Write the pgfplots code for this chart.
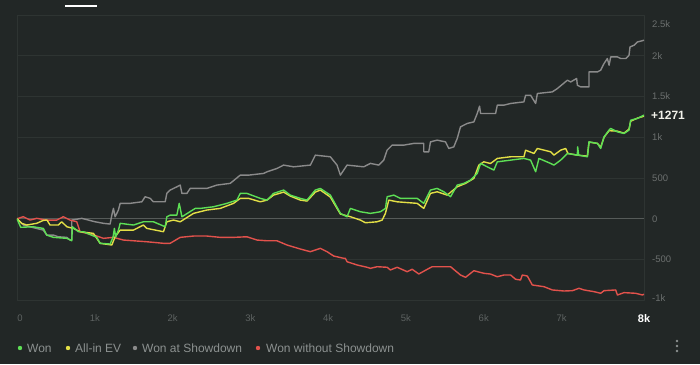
\documentclass[border=0pt]{standalone}
\usepackage{pgfplots}
\pgfplotsset{compat=1.18}
\usepackage{fontspec}
\setmainfont{Liberation Sans}
\definecolor{bg}{HTML}{222726}
\definecolor{gridc}{HTML}{2E3432}
\definecolor{zeroc}{HTML}{565B59}
\definecolor{wongreen}{HTML}{5DDF55}
\definecolor{evyellow}{HTML}{E3DF46}
\definecolor{sdgray}{HTML}{8A8A8A}
\definecolor{nsdred}{HTML}{E2524C}
\definecolor{ylab}{HTML}{6B6F6E}
\definecolor{xlab}{HTML}{5D6261}
\definecolor{legtext}{HTML}{8C9190}
\definecolor{endlab}{HTML}{F2F2EA}
\begin{document}
\begin{tikzpicture}[x=1pt,y=1pt]
\fill[bg] (0,0) rectangle (700,364);
\begin{axis}[
  at={(17pt,63.7pt)}, anchor=south west,
  scale only axis, width=627pt, height=285.4pt,
  xmin=0, xmax=8060, ymin=-1000, ymax=2500,
  axis line style={draw=gridc, line width=0.8pt},
  xtick={0,1000,2000,3000,4000,5000,6000,7000,8060},
  xticklabels={{\hspace*{6pt}0},1k,2k,3k,4k,5k,6k,7k,{\fontsize{11}{13}\selectfont\bfseries\textcolor{white}{8k}}},
  ytick={-1000,-500,0,500,1000,1500,2000,2500},
  yticklabels={{},-500,0,500,1k,1.5k,2k,{}},
  ymajorgrids, grid style={draw=gridc, line width=0.8pt},
  major tick length=0pt,
  yticklabel pos=right,
  tick label style={font=\fontsize{9.5}{11}\selectfont},
  xticklabel style={anchor=center, yshift=-18pt, text=xlab},
  yticklabel style={anchor=west, xshift=8pt, text=ylab, inner sep=0pt},
  /pgf/number format/assume math mode=true,
  clip mode=individual,
  line join=round,
]
\draw[zeroc, line width=1.3pt] (axis cs:0,0) -- (axis cs:8060,0);
\node[anchor=west, xshift=8pt, yshift=-9.4pt, text=ylab, inner sep=0pt, font=\fontsize{9.5}{11}\selectfont] at (axis cs:8060,2500) {2.5k};
\node[anchor=west, xshift=8pt, yshift=2pt, text=ylab, inner sep=0pt, font=\fontsize{9.5}{11}\selectfont] at (axis cs:8060,-1000) {-1k};

% Won at Showdown
\addplot[sdgray, line width=1.4pt] coordinates {
(0,0) (81,-77) (232,-114) (338,-139) (382,-200) (467,-200) (531,-221) (640,-228)
(682,-261) (704,-261) (704,-16) (833,5) (918,-16) (1004,-37) (1111,-56) (1197,-65)
(1219,45) (1240,127) (1261,24) (1304,107) (1326,189) (1454,189) (1605,208) (1647,270)
(1712,250) (1754,208) (1905,208) (1926,311) (1969,352) (2055,392) (2098,413) (2120,311)
(2184,311) (2226,372) (2441,372) (2570,413) (2741,434) (2870,535) (2977,535) (3170,556)
(3214,576) (3342,617) (3427,658) (3556,637) (3771,658) (3835,780) (4028,760) (4114,658)
(4157,535) (4243,658) (4457,637) (4543,679) (4650,658) (4714,719) (4758,842) (4822,903)
(4972,903) (5100,924) (5229,924) (5229,821) (5293,821) (5315,943) (5401,964) (5508,943)
(5551,862) (5615,882) (5659,985) (5701,1127) (5787,1169) (5873,1188) (5916,1291) (5946,1381)
(5959,1291) (6152,1291) (6174,1393) (6259,1393) (6345,1414) (6516,1433) (6538,1515) (6602,1515)
(6667,1414) (6689,1536) (6881,1556) (6946,1597) (7075,1699) (7117,1678) (7194,1720) (7203,1638)
(7246,1617) (7353,1617) (7353,1801) (7461,1801) (7503,1822) (7546,1904) (7589,1965) (7611,1883)
(7632,1985) (7718,1985) (7761,1965) (7825,1965) (7867,2005) (7880,2107) (7932,2128) (7975,2168)
(8060,2189)
};

% Won without Showdown
\addplot[nsdred, line width=1.4pt] coordinates {
(0,0) (81,25) (167,-16) (253,5) (382,-16) (511,-16) (596,25) (682,-16) (768,-37)
(811,-159) (897,-179) (1026,-212) (1111,-240) (1240,-228) (1368,-261) (1497,-270) (1669,-282)
(1883,-301) (1969,-301) (2098,-228) (2269,-212) (2441,-212) (2612,-228) (2784,-228) (2956,-221)
(3085,-261) (3214,-270) (3342,-270) (3471,-322) (3642,-371) (3771,-404) (3899,-363) (3986,-404)
(4071,-457) (4200,-485) (4221,-485) (4243,-527) (4372,-567) (4500,-595) (4543,-608) (4629,-588)
(4758,-595) (4800,-628) (4887,-595) (5015,-649) (5080,-620) (5165,-677) (5273,-620) (5337,-588)
(5573,-588) (5701,-690) (5766,-718) (5873,-637) (6001,-669) (6087,-678) (6174,-711) (6259,-690)
(6345,-690) (6409,-742) (6473,-751) (6495,-690) (6560,-702) (6624,-812) (6774,-833) (6881,-873)
(7031,-886) (7139,-882) (7224,-853) (7288,-873) (7417,-894) (7503,-914) (7546,-882) (7696,-873)
(7718,-935) (7803,-906) (7953,-914) (8039,-935) (8060,-926)
};

% All-in EV
\addplot[evyellow, line width=1.4pt] coordinates {
(0,0) (60,-56) (125,-77) (253,-56) (338,-20) (386,-16) (425,-77) (531,-77) (575,-37)
(640,-98) (724,-118) (811,-159) (982,-179) (1068,-301) (1219,-322) (1261,-221) (1326,-139)
(1497,-139) (1625,-77) (1669,-118) (1883,-159) (1926,-37) (2011,-16) (2098,-37) (2269,66)
(2441,107) (2612,127) (2784,189) (2870,250) (2977,250) (3127,208) (3214,229) (3298,290)
(3427,327) (3513,278) (3642,229) (3728,217) (3835,327) (3899,352) (4028,266) (4157,58)
(4286,25) (4414,-16) (4479,-49) (4629,-37) (4694,-16) (4736,66) (4779,229) (4887,208)
(5144,189) (5229,127) (5315,311) (5401,331) (5530,290) (5659,392) (5766,434) (5873,495)
(5937,658) (6001,698) (6087,678) (6174,740) (6345,760) (6516,760) (6538,841) (6645,801)
(6689,862) (6860,821) (6902,780) (6988,841) (7053,862) (7082,801) (7203,780) (7332,768)
(7353,940) (7461,924) (7503,878) (7546,1000) (7611,1080) (7718,1074) (7803,1050) (7867,1099)
(7889,1197) (7975,1234) (8060,1258)
};

% Won
\addplot[wongreen, line width=1.4pt] coordinates {
(0,0) (48,-105) (206,-98) (338,-118) (382,-200) (467,-228) (640,-240) (704,-270)
(712,-98) (789,-159) (853,-159) (1026,-228) (1068,-301) (1197,-310) (1235,-224) (1252,-118)
(1268,-224) (1304,-139) (1326,-56) (1497,-77) (1625,-37) (1754,-37) (1905,-98) (1926,24)
(1969,45) (2055,45) (2085,189) (2120,24) (2291,127) (2355,127) (2526,147) (2699,189)
(2827,229) (2870,311) (2956,311) (3127,250) (3214,229) (3298,311) (3427,352) (3513,290)
(3642,250) (3728,229) (3835,352) (3899,372) (4028,290) (4157,66) (4243,24) (4286,127)
(4414,86) (4543,66) (4672,86) (4736,127) (4758,270) (4843,290) (4929,250) (5144,250)
(5229,189) (5315,352) (5401,372) (5486,331) (5573,270) (5659,413) (5744,434) (5830,474)
(5916,556) (5959,679) (6045,637) (6130,597) (6174,698) (6345,719) (6516,740) (6602,719)
(6667,576) (6709,740) (6860,678) (6902,658) (6988,719) (7075,801) (7203,780) (7207,882)
(7220,780) (7332,760) (7353,943) (7461,924) (7503,862) (7546,1004) (7611,1087) (7632,1107)
(7718,1066) (7803,1046) (7867,1087) (7889,1209) (7975,1230) (8060,1271)
};
\node[anchor=west, xshift=7pt, text=endlab, inner sep=0pt, font=\fontsize{12}{14}\selectfont\bfseries] at (axis cs:8060,1271) {+1271};
\end{axis}

% top tab strip underline (tab texts lie above the visible area)
\draw[white, line width=2pt] (65,358) -- (97,358);

% legend
\begin{scope}[font=\fontsize{12}{14}\selectfont]
\fill[wongreen] (20,16) circle (2.2);
\node[anchor=base west, inner sep=0pt, text=legtext] at (27,11.5) {Won};
\fill[evyellow] (68,16) circle (2.2);
\node[anchor=base west, inner sep=0pt, text=legtext] at (75,11.5) {All-in EV};
\fill[sdgray] (135,16) circle (2.2);
\node[anchor=base west, inner sep=0pt, text=legtext] at (142,11.5) {Won at Showdown};
\fill[nsdred] (258,16) circle (2.2);
\node[anchor=base west, inner sep=0pt, text=legtext] at (266,11.5) {Won without Showdown};
\end{scope}
\fill[legtext] (677,23) circle (1.3);
\fill[legtext] (677,18) circle (1.3);
\fill[legtext] (677,13) circle (1.3);

\pgfresetboundingbox
\path[use as bounding box] (0,0) rectangle (700,364);
\end{tikzpicture}
\end{document}
